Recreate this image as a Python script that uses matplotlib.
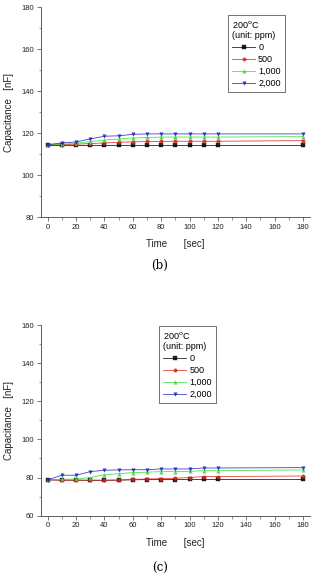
import matplotlib
matplotlib.use("Agg")
import matplotlib.pyplot as plt
from matplotlib.ticker import MultipleLocator

plt.rcParams['font.family'] = ['Liberation Sans', 'DejaVu Sans']

time = [0, 10, 20, 30, 40, 50, 60, 70, 80, 90, 100, 110, 120, 180]
labels = ["0", "500", "1,000", "2,000"]

b_0 = [114.6, 114.6, 114.6, 114.6, 114.6, 114.6, 114.6, 114.6, 114.6, 114.6, 114.6, 114.6, 114.6, 114.6]
b_500 = [114.6, 114.6, 114.8, 115.1, 115.4, 115.7, 115.9, 116.1, 116.1, 116.2, 116.2, 116.2, 116.2, 116.5]
b_1000 = [114.6, 114.8, 115.3, 116.0, 116.8, 117.3, 117.8, 118.0, 118.2, 118.2, 118.2, 118.2, 118.2, 118.4]
b_2000 = [114.6, 115.4, 115.9, 117.3, 118.6, 118.8, 119.5, 119.7, 119.7, 119.7, 119.7, 119.7, 119.7, 119.7]

c_0 = [78.8, 78.6, 78.6, 78.5, 78.5, 78.6, 78.8, 78.9, 78.9, 78.9, 79.0, 79.0, 79.0, 79.0]
c_500 = [78.8, 78.6, 78.6, 78.6, 78.6, 78.7, 79.0, 79.2, 79.4, 79.6, 80.0, 80.5, 80.5, 80.8]
c_1000 = [78.8, 79.0, 79.2, 80.0, 81.5, 82.0, 82.6, 82.8, 83.1, 83.1, 83.2, 83.6, 83.6, 84.0]
c_2000 = [78.8, 81.2, 81.2, 83.1, 83.8, 84.0, 84.1, 84.1, 84.5, 84.5, 84.5, 85.0, 85.0, 85.2]

colors = ["#000000", "#e02020", "#30e030", "#2020c0"]
markers = ["s", "o", "^", "v"]

fig = plt.figure(figsize=(3.2, 5.76), dpi=100)
ax1 = fig.add_axes([0.127, 0.623, 0.842, 0.364])
ax2 = fig.add_axes([0.127, 0.105, 0.842, 0.330])

def style(ax, series, ylim, ymajor, legend_loc):
    for s, c, m, lab in zip(series, colors, markers, labels):
        ax.plot(time, s, color=c, marker=m, markersize=2.5, linewidth=0.6,
                label=lab, markeredgewidth=0.3, markeredgecolor=c, alpha=0.85)
    ax.set_xlim(-5, 185)
    ax.set_ylim(*ylim)
    ax.xaxis.set_major_locator(MultipleLocator(20))
    ax.xaxis.set_minor_locator(MultipleLocator(10))
    ax.yaxis.set_major_locator(MultipleLocator(ymajor))
    ax.yaxis.set_minor_locator(MultipleLocator(ymajor / 2))
    for sp in ("top", "right"):
        ax.spines[sp].set_visible(False)
    for sp in ("left", "bottom"):
        ax.spines[sp].set_linewidth(0.6)
        ax.spines[sp].set_color("#444444")
    ax.tick_params(which="major", length=3, width=0.5, labelsize=5.5, colors="#444444", labelcolor="#222222", pad=2)
    ax.tick_params(which="minor", length=1.8, width=0.4, colors="#444444")
    ax.set_xlabel("Time      [sec]", fontsize=7, color="#222222", labelpad=6)
    ax.set_ylabel("Capacitance   [nF]", fontsize=7, color="#222222", labelpad=5)
    leg = ax.legend(title="200$^{\\rm o}$C\n(unit: ppm)", fontsize=6.5, title_fontsize=6.5,
                    loc="upper left", bbox_to_anchor=legend_loc, frameon=True, fancybox=False,
                    handlelength=2.6, handletextpad=0.3, labelspacing=0.32, borderpad=0.45,
                    borderaxespad=0, alignment="left")
    leg.get_frame().set_edgecolor("#333333")
    leg.get_frame().set_linewidth(0.6)

style(ax1, [b_0, b_500, b_1000, b_2000], (80, 180), 20, (0.695, 0.964))
style(ax2, [c_0, c_500, c_1000, c_2000], (60, 160), 20, (0.439, 0.997))

fig.text(0.5, 0.54, "(b)", ha="center", va="center", fontsize=8.5, family="DejaVu Serif")
fig.text(0.5, 0.013, "(c)", ha="center", va="center", fontsize=8.5, family="DejaVu Serif")

fig.savefig("out.png", dpi=100)
